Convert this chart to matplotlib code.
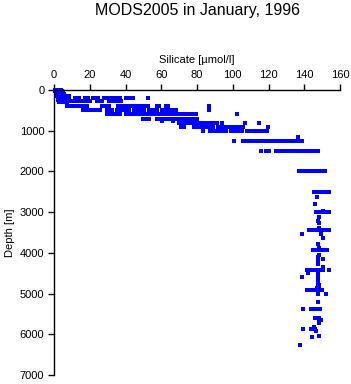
import matplotlib
matplotlib.use("Agg")
import matplotlib.pyplot as plt

plt.rcParams['font.family'] = ['Liberation Sans', 'DejaVu Sans']

# ---------- Data ----------

title = "MODS2005 in January, 1996"
x_label = "Silicate [\u00b5mol/l]"
y_label = "Depth [m]"

x_ticks = [0, 20, 40, 60, 80, 100, 120, 140, 160]
y_ticks = [0, 1000, 2000, 3000, 4000, 5000, 6000, 7000]

# observed depth of each row of casts [m]
depths = [
    0, 10, 20, 30, 50, 75, 100, 125, 150, 200, 250, 280, 300, 400, 500, 600,
    700, 750, 800, 900, 1000, 1150, 1250, 1500, 2000, 2500, 2620, 2790, 2960,
    3000, 3110, 3210, 3270, 3390, 3440, 3525, 3640, 3780, 3870, 3940, 4050,
    4090, 4160, 4210, 4270, 4350, 4430, 4500, 4560, 4590, 4650, 4730, 4800,
    4840, 4870, 4920, 5005, 5200, 5390, 5595, 5640, 5735, 5825, 5880, 5920,
    6030, 6060, 6275,
]

# silicate values found at each of those depths [umol/l]
silicate = [
    [0.5, 1.2, 2.0, 2.8, 3.5],
    [0.6, 1.5, 2.4, 3.2, 4.0],
    [0.8, 1.6, 2.5, 3.0, 3.8],
    [0.7, 1.4, 2.2, 3.5, 4.3],
    [0.9, 1.8, 2.6, 3.4, 4.2, 5.0],
    [1.0, 1.9, 2.8, 3.6, 4.5, 5.3],
    [1.2, 2.0, 2.9, 3.8, 4.6, 5.5],
    [1.5, 2.3, 3.2, 4.0, 4.9, 5.8],
    [1.8, 2.6, 3.5, 4.4, 5.2, 6.0, 7.0, 8.2],
    [2.0, 2.8, 3.6, 4.5, 5.3, 6.2, 7.0, 8.5, 11.5, 12.8, 14.0, 17.5, 18.8,
     22.0, 23.2, 24.5, 28.0, 29.3, 30.6, 31.8, 34.0, 35.5, 36.8, 40.5, 41.8,
     43.0, 44.3, 52.5],
    [2.5, 3.3, 4.1, 4.9, 5.7, 6.5],
    [3.5, 4.5, 5.5, 6.5, 7.5, 8.5, 9.5, 10.5, 11.5, 13.0, 14.5, 17.0, 18.5,
     20.0, 24.0, 25.5, 27.0, 30.5, 32.0, 33.5, 35.0, 37.5],
    [3.0, 4.0, 5.0, 6.0, 7.0],
    [7.5, 9.0, 10.5, 12.0, 13.5, 15.0, 16.5, 18.5, 27.0, 29.0, 31.0, 36.0,
     37.5, 39.0, 40.5, 42.0, 43.5, 45.0, 46.5, 48.0, 49.5, 51.0, 52.5, 57.5,
     59.0, 62.5, 64.0, 86.5],
    [16.5, 18.0, 19.5, 21.0, 22.5, 24.0, 25.5, 29.5, 31.0, 32.5, 35.0, 36.5,
     38.0, 40.5, 42.0, 44.5, 46.0, 47.5, 49.0, 50.5, 53.0, 54.5, 56.0, 57.5,
     60.5, 62.0, 63.5, 65.0, 66.5, 68.5, 86.5],
    [29.5, 31.0, 32.5, 34.0, 35.5, 37.0, 40.0, 41.5, 43.0, 45.0, 46.5, 48.0,
     49.5, 51.0, 52.5, 54.0, 55.5, 57.0, 58.5, 60.0, 61.5, 63.0, 64.5, 66.0,
     67.5, 69.0, 70.5, 72.0, 73.5, 75.0, 76.5, 78.0, 79.5, 102.5],
    [50.0, 51.5, 53.0, 57.5, 59.0, 60.5, 62.0, 63.5, 65.0, 66.5, 68.0, 69.5,
     71.0, 72.5, 74.0, 75.5, 77.0, 78.5, 80.0],
    [60.5, 66.5],
    [70.0, 71.5, 73.0, 74.5, 76.0, 77.5, 79.0, 80.5, 82.0, 83.5, 85.0, 86.5,
     88.0, 89.5, 91.0, 94.0, 107.0, 114.5],
    [71.0, 73.0, 78.5, 80.0, 81.5, 83.0, 84.5, 86.0, 87.5, 89.0, 91.5, 93.0,
     94.5, 96.5, 98.0, 99.5, 101.0, 102.5, 104.0, 105.5, 119.5],
    [83.5, 87.5, 89.0, 90.5, 92.0, 93.5, 95.0, 96.5, 99.0, 100.5, 102.0,
     103.5, 105.0, 108.0, 109.5, 111.0, 112.5, 114.0, 115.5, 117.0, 119.0],
    [136.5],
    [100.5, 105.5, 107.0, 108.5, 110.0, 111.5, 113.0, 114.5, 116.0, 117.5,
     119.0, 120.5, 122.0, 123.5, 126.0, 127.5, 129.0, 130.5, 132.0, 133.5,
     135.0, 137.0, 138.5],
    [116.0, 118.5, 120.5, 124.0, 125.5, 127.0, 128.5, 130.0, 131.5, 133.0,
     134.5, 136.0, 137.5, 139.0, 140.5, 142.0, 143.5, 145.0, 146.5, 147.5],
    [137.0, 139.5, 141.0, 142.5, 144.0, 145.5, 147.0, 148.5, 150.0, 151.5],
    [145.5, 147.0, 148.5, 150.0, 151.5, 153.0, 154.0],
    [147.0],
    [146.0],
    [150.5],
    [146.5, 148.0, 149.5, 151.0, 152.5, 154.0],
    [148.5],
    [147.7],
    [148.4],
    [148.4],
    [142.5, 144.0, 145.5, 147.0, 148.5, 150.0, 151.5, 153.0, 154.0],
    [138.7, 149.5],
    [150.7],
    [147.5],
    [148.4],
    [145.0, 146.5, 148.0, 149.5, 151.0, 152.5],
    [148.4],
    [147.6],
    [150.5],
    [147.6],
    [147.7],
    [150.5],
    [141.5, 143.0, 144.5, 146.0, 147.5, 149.0, 150.5, 154.0],
    [142.0, 147.5],
    [147.5],
    [138.5],
    [147.5],
    [147.5],
    [147.5, 148.5],
    [147.5],
    [147.0, 148.0],
    [141.5, 144.0, 145.5, 147.0, 148.5, 150.0],
    [147.5, 152.0],
    [147.5],
    [139.5, 143.5, 146.0, 148.0, 149.0],
    [146.0, 147.0, 148.0],
    [148.0, 149.2],
    [148.5],
    [145.5],
    [139.5, 144.0, 146.0],
    [146.5],
    [148.5],
    [144.5],
    [137.5],
]

# ---------- Plot ----------

xs, ys = [], []
for d, vals in zip(depths, silicate):
    for v in vals:
        xs.append(v)
        ys.append(d)

fig = plt.figure(figsize=(3.51, 3.84), dpi=100)
ax = fig.add_axes([54 / 351, 1 - 375 / 384, 286 / 351, 285 / 384])

ax.plot(xs, ys, linestyle="none", marker="s", markersize=2.3,
        markeredgewidth=0, color="#0000ff", clip_on=False)

ax.set_xlim(0, 160)
ax.set_ylim(7000, 0)
ax.set_xticks(x_ticks)
ax.set_yticks(y_ticks)

ax.xaxis.set_ticks_position("top")
ax.xaxis.set_label_position("top")
ax.spines["right"].set_visible(False)
ax.spines["bottom"].set_visible(False)
for side in ("left", "top"):
    ax.spines[side].set_linewidth(1.0)
ax.tick_params(axis="both", direction="out", length=4, width=1.0,
               labelsize=8, pad=3)

ax.set_xlabel(x_label, fontsize=8, labelpad=5)
ax.set_ylabel(y_label, fontsize=8, labelpad=3)
# title is centred over the plotting area, not the whole figure
fig.text(197 / 351, 1 - 11 / 384, title, ha="center", va="center",
         fontsize=11.5)

fig.savefig("out.png", dpi=100)
